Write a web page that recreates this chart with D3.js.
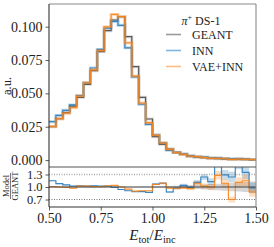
<!DOCTYPE html>
<html>
<head>
<meta charset="utf-8">
<script src="https://cdn.jsdelivr.net/npm/d3@7"></script>
<style>
  body { margin: 0; background: #fff; }
  svg { display: block; font-family: "Liberation Serif", serif; }
  .tick text { font-family: "Liberation Serif", serif; fill: #222; }
</style>
</head>
<body>
<svg id="chart" width="274" height="247"></svg>
<script>
// bins over E_tot/E_inc
const xRange = [0.5, 1.5];
const nBins = 30;

// GEANT reference histogram (a.u.)
const geant = [0.025, 0.031, 0.0355, 0.0405, 0.047, 0.0568, 0.067, 0.0813, 0.097, 0.105,
  0.1075, 0.0925, 0.070, 0.047, 0.0308, 0.0175, 0.0118, 0.0083, 0.0058, 0.0043,
  0.0030, 0.0023, 0.0018, 0.0013, 0.0010, 0.0009, 0.0007, 0.0006, 0.0005, 0.0004];

// Model / GEANT ratios
const innRatio = [1.15, 1.08, 1.05, 1.02, 1.03, 1.02, 1.03, 1.02, 1.02, 0.99,
  0.94, 0.91, 0.89, 0.89, 0.87, 1.07, 1.09, 0.88, 0.97, 1.04,
  0.99, 1.11, 1.24, 1.13, 1.6, 1.29, 1.24, 1.6, 1.35, 0.98];
const vaeRatio = [1.01, 1.0, 0.99, 0.97, 1.02, 1.02, 1.01, 1.01, 1.03, 1.04,
  1.0, 0.95, 0.9, 0.91, 0.91, 1.06, 1.09, 0.97, 0.97, 0.98,
  0.96, 1.09, 1.02, 1.0, 1.28, 1.09, 0.70, 1.11, 1.15, 0.88];

// relative statistical uncertainty per bin
const relErr = [0.012, 0.012, 0.011, 0.01, 0.01, 0.009, 0.009, 0.008, 0.008, 0.008,
  0.008, 0.008, 0.009, 0.011, 0.013, 0.017, 0.02, 0.025, 0.03, 0.035,
  0.04, 0.05, 0.06, 0.07, 0.08, 0.09, 0.1, 0.11, 0.12, 0.13];

const yTicks = [0, 0.025, 0.05, 0.075, 0.1];
const rTicks = [0.7, 1.0, 1.3];
const xTicks = [0.5, 0.75, 1.0, 1.25, 1.5];

const series = [
  { name: "GEANT", ratio: geant.map(() => 1), line: "#4a4a4a", band: "#888", legend: "#9a9a9a" },
  { name: "INN", ratio: innRatio, line: "#2a7cbc", band: "#1f77b4", legend: "#7fb5dd" },
  { name: "VAE+INN", ratio: vaeRatio, line: "#f7861e", band: "#ff7f0e", legend: "#ffbb80" }
];

var svg = d3.select("#chart");
var left = 49, right = 256,
    mainTop = 4, mainBottom = 167,
    ratioTop = 167, ratioBottom = 207;

var x = d3.scaleLinear().domain(xRange).range([left, right]);
var y = d3.scaleLinear().domain([-0.0052, 0.117]).range([mainBottom, mainTop]);
var yr = d3.scaleLinear().domain([0.52, 1.48]).range([ratioBottom, ratioTop]);

var step = (xRange[1] - xRange[0]) / nBins;
var edges = d3.range(nBins + 1).map(i => xRange[0] + i * step);

function stepPoints(vals) {
  var pts = vals.map((v, i) => [edges[i], v]);
  pts.push([edges[nBins], vals[nBins - 1]]);
  return pts;
}

var defs = svg.append("defs");
defs.append("clipPath").attr("id", "clipMain").append("rect")
  .attr("x", left).attr("y", mainTop).attr("width", right - left).attr("height", mainBottom - mainTop);
defs.append("clipPath").attr("id", "clipRatio").append("rect")
  .attr("x", left).attr("y", ratioTop).attr("width", right - left).attr("height", ratioBottom - ratioTop);

// ---- main panel
var gMain = svg.append("g").attr("clip-path", "url(#clipMain)");
var lineMain = d3.line().curve(d3.curveStepAfter).x(d => x(d[0])).y(d => y(d[1]));

series.forEach(function (s) {
  var vals = geant.map((g, i) => g * s.ratio[i]);
  gMain.append("path")
    .attr("d", lineMain(stepPoints(vals)))
    .attr("fill", "none")
    .attr("stroke", s.band)
    .attr("stroke-opacity", 0.3)
    .attr("stroke-width", 3);
  gMain.append("path")
    .attr("d", lineMain(stepPoints(vals)))
    .attr("fill", "none")
    .attr("stroke", s.line)
    .attr("stroke-opacity", 0.9)
    .attr("stroke-width", 1.2);
});

// ---- ratio panel
var gRatio = svg.append("g").attr("clip-path", "url(#clipRatio)");
var bandRatio = d3.area().curve(d3.curveStepAfter)
  .x(d => x(d[0])).y0(d => yr(d[1] - d[2])).y1(d => yr(d[1] + d[2]));
var lineRatio = d3.line().curve(d3.curveStepAfter).x(d => x(d[0])).y(d => yr(d[1]));

series.forEach(function (s) {
  var pts = s.ratio.map((r, i) => [edges[i], r, r * relErr[i]]);
  pts.push([edges[nBins], s.ratio[nBins - 1], s.ratio[nBins - 1] * relErr[nBins - 1]]);
  gRatio.append("path")
    .attr("d", bandRatio(pts))
    .attr("fill", s.band)
    .attr("fill-opacity", s.name == "GEANT" ? 0.35 : 0.25);
});

// reference lines
[1.3, 0.7].forEach(function (r) {
  gRatio.append("line")
    .attr("x1", left).attr("x2", right)
    .attr("y1", yr(r)).attr("y2", yr(r))
    .attr("stroke", r > 1 ? "#aaa" : "#666")
    .attr("stroke-width", r > 1 ? 1.4 : 0.9)
    .attr("stroke-dasharray", "1,1.5");
});

series.slice(1).forEach(function (s) {
  gRatio.append("path")
    .attr("d", lineRatio(stepPoints(s.ratio)))
    .attr("fill", "none")
    .attr("stroke", s.line)
    .attr("stroke-opacity", 0.9)
    .attr("stroke-width", 1.2);
});

gRatio.append("path")
  .attr("d", lineRatio(stepPoints(series[0].ratio)))
  .attr("fill", "none")
  .attr("stroke", "#444")
  .attr("stroke-width", 1.2);

// ---- axes
var yAxis = svg.append("g")
  .attr("transform", "translate(" + left + ",0)")
  .call(d3.axisLeft(y).tickValues(yTicks).tickFormat(d3.format(".3f")).tickSize(3.5).tickPadding(3));
var rAxis = svg.append("g")
  .attr("transform", "translate(" + left + ",0)")
  .call(d3.axisLeft(yr).tickValues(rTicks).tickFormat(d3.format(".1f")).tickSize(3.5).tickPadding(3));
var xAxis = svg.append("g")
  .attr("transform", "translate(0," + ratioBottom + ")")
  .call(d3.axisBottom(x).tickValues(xTicks).tickFormat(d3.format(".2f")).tickSize(3.5).tickPadding(2.5));

[yAxis, xAxis].forEach(function (a) {
  a.selectAll(".tick text").attr("font-size", "14px");
});
rAxis.selectAll(".tick text").attr("font-size", "12.5px").attr("dy", "0.3em");
[yAxis, rAxis, xAxis].forEach(function (a) {
  a.select(".domain").remove();
  a.selectAll(".tick line").attr("stroke", "#333").attr("stroke-width", 0.8);
});

// spines
function spine(x1, y1, x2, y2, c) {
  svg.append("line").attr("x1", x1).attr("y1", y1).attr("x2", x2).attr("y2", y2)
    .attr("stroke", c).attr("stroke-width", 1.1);
}
spine(left, mainTop, right, mainTop, "#8a8a8a");
spine(right, mainTop, right, ratioBottom, "#8a8a8a");
spine(left, ratioTop, right, ratioTop, "#555");
spine(left, ratioBottom, right, ratioBottom, "#333");
spine(left, mainTop, left, ratioBottom, "#333");

// ---- labels
svg.append("text")
  .attr("transform", "translate(11,86) rotate(-90)")
  .attr("text-anchor", "middle")
  .attr("font-size", "12.5px").attr("fill", "#222")
  .text("a.u.");

var frac = svg.append("g").attr("transform", "translate(10.5,186) rotate(-90)");
frac.append("text").attr("x", 0).attr("y", -2).attr("text-anchor", "middle")
  .attr("font-size", "8.5px").attr("fill", "#222").text("Model");
frac.append("line").attr("x1", -13).attr("x2", 13).attr("y1", 0).attr("y2", 0)
  .attr("stroke", "#222").attr("stroke-width", 0.6);
frac.append("text").attr("x", 0).attr("y", 7).attr("text-anchor", "middle")
  .attr("font-size", "8.5px").attr("fill", "#222").text("GEANT");

var xl = svg.append("text")
  .attr("x", x(1.0)).attr("y", 240)
  .attr("text-anchor", "middle")
  .attr("font-size", "15px").attr("fill", "#222");
xl.append("tspan").attr("font-style", "italic").text("E");
xl.append("tspan").attr("font-size", "10.5px").attr("dy", 3).text("tot");
xl.append("tspan").attr("dy", -3).text("/");
xl.append("tspan").attr("font-style", "italic").text("E");
xl.append("tspan").attr("font-size", "10.5px").attr("dy", 3).text("inc");

// ---- legend
var legend = svg.append("g").attr("font-size", "12px").attr("fill", "#222");
var lt = legend.append("text").attr("x", 201).attr("y", 25).attr("text-anchor", "middle");
lt.append("tspan").attr("font-style", "italic").text("π");
lt.append("tspan").attr("font-size", "8px").attr("dy", -5).text("+");
lt.append("tspan").attr("dy", 5).text(" DS-1");

series.forEach(function (s, i) {
  var ly = 34.5 + i * 16;
  legend.append("line")
    .attr("x1", 166).attr("x2", 181).attr("y1", ly).attr("y2", ly)
    .attr("stroke", s.legend).attr("stroke-width", 1.6);
  legend.append("text").attr("x", 192).attr("y", ly + 4).text(s.name);
});
</script>
</body>
</html>
